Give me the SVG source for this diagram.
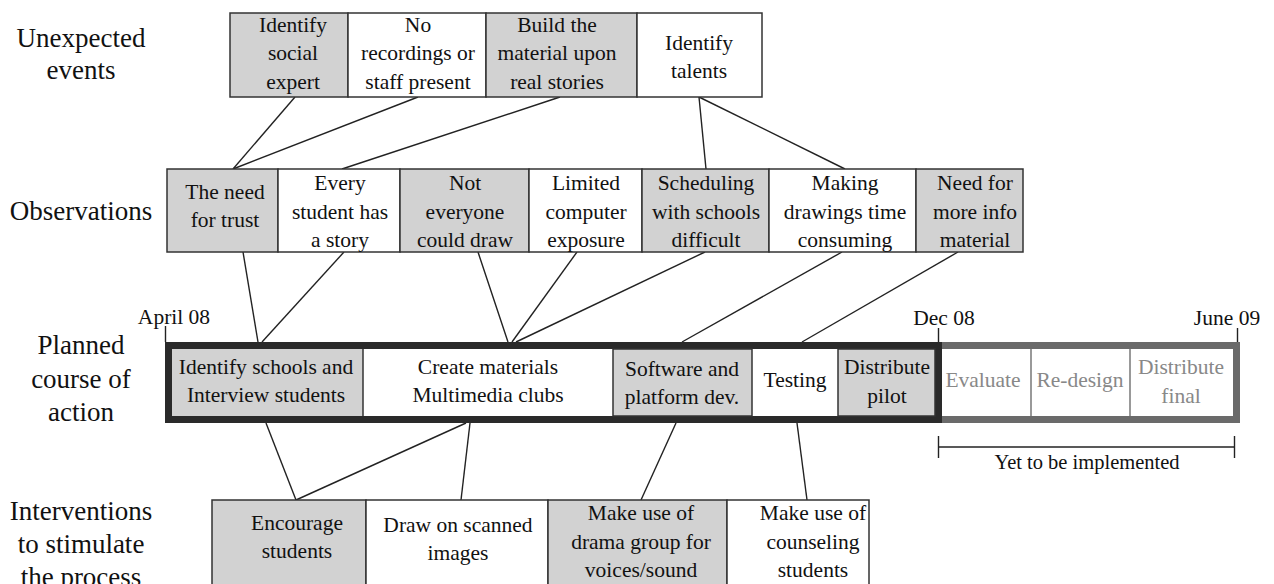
<svg xmlns="http://www.w3.org/2000/svg" width="1274" height="584" viewBox="0 0 1274 584">
<style>
text{font-family:"Liberation Serif","Times New Roman",serif;fill:#111;text-anchor:middle}
.lbl{font-size:27px}
.t{font-size:21.5px}
.g{fill:#d2d2d2;stroke:#333;stroke-width:1.5}
.w{fill:#fff;stroke:#333;stroke-width:1.5}
.fut{fill:#888}
.c line{stroke:#222;stroke-width:1.4}
.tick{stroke:#222;stroke-width:1.4}
</style>
<rect width="1274" height="584" fill="#fff"/>
<g id="row-labels">
<text class="lbl" x="81" y="47">Unexpected</text>
<text class="lbl" x="81" y="79">events</text>
<text class="lbl" x="81" y="220">Observations</text>
<text class="lbl" x="81" y="354">Planned</text>
<text class="lbl" x="81" y="388">course of</text>
<text class="lbl" x="81" y="421">action</text>
<text class="lbl" x="81" y="520">Interventions</text>
<text class="lbl" x="81" y="553">to stimulate</text>
<text class="lbl" x="81" y="586">the process</text>
</g>
<g id="connectors" class="c">
<line x1="295" y1="97" x2="233" y2="169"/>
<line x1="418" y1="97" x2="233" y2="169"/>
<line x1="560" y1="97" x2="342" y2="169"/>
<line x1="699" y1="97" x2="706" y2="169"/>
<line x1="699" y1="97" x2="845" y2="169"/>
<line x1="243" y1="252" x2="258" y2="342"/>
<line x1="344" y1="252" x2="262" y2="342"/>
<line x1="478" y1="252" x2="508" y2="342"/>
<line x1="577" y1="252" x2="512" y2="342"/>
<line x1="705" y1="252" x2="516" y2="342"/>
<line x1="842" y1="252" x2="682" y2="342"/>
<line x1="958" y1="252" x2="802" y2="342"/>
<line x1="266" y1="423" x2="296" y2="500"/>
<line x1="466" y1="423" x2="296" y2="500"/>
<line x1="470" y1="423" x2="461" y2="500"/>
<line x1="676" y1="423" x2="641" y2="500"/>
<line x1="797" y1="423" x2="807" y2="500"/>
</g>
<!-- Unexpected events -->
<g id="u1"><rect class="g" x="230" y="13" width="118" height="84"/><text class="t" x="293" y="32">Identify</text><text class="t" x="293" y="60">social</text><text class="t" x="293" y="89">expert</text></g>
<g id="u2"><rect class="w" x="348" y="13" width="138" height="84"/><text class="t" x="418" y="32">No</text><text class="t" x="418" y="60">recordings or</text><text class="t" x="418" y="89">staff present</text></g>
<g id="u3"><rect class="g" x="486" y="13" width="151" height="84"/><text class="t" x="557" y="32">Build the</text><text class="t" x="557" y="60">material upon</text><text class="t" x="557" y="89">real stories</text></g>
<g id="u4"><rect class="w" x="637" y="13" width="125" height="84"/><text class="t" x="699" y="50">Identify</text><text class="t" x="699" y="78">talents</text></g>
<!-- Observations -->
<g id="o1"><rect class="g" x="167" y="169" width="111" height="83"/><text class="t" x="225" y="199">The need</text><text class="t" x="225" y="227">for trust</text></g>
<g id="o2"><rect class="w" x="278" y="169" width="122" height="83"/><text class="t" x="340" y="190">Every</text><text class="t" x="340" y="219">student has</text><text class="t" x="340" y="247">a story</text></g>
<g id="o3"><rect class="g" x="400" y="169" width="129" height="83"/><text class="t" x="465" y="190">Not</text><text class="t" x="465" y="219">everyone</text><text class="t" x="465" y="247">could draw</text></g>
<g id="o4"><rect class="w" x="529" y="169" width="113" height="83"/><text class="t" x="586" y="190">Limited</text><text class="t" x="586" y="219">computer</text><text class="t" x="586" y="247">exposure</text></g>
<g id="o5"><rect class="g" x="642" y="169" width="127" height="83"/><text class="t" x="706" y="190">Scheduling</text><text class="t" x="706" y="219">with schools</text><text class="t" x="706" y="247">difficult</text></g>
<g id="o6"><rect class="w" x="769" y="169" width="147" height="83"/><text class="t" x="845" y="190">Making</text><text class="t" x="845" y="219">drawings time</text><text class="t" x="845" y="247">consuming</text></g>
<g id="o7"><rect class="g" x="916" y="169" width="107" height="83"/><text class="t" x="975" y="190">Need for</text><text class="t" x="975" y="219">more info</text><text class="t" x="975" y="247">material</text></g>
<!-- Planned course of action -->
<g id="timeline">
<rect x="938.5" y="345.5" width="298" height="74" fill="#fff" stroke="#6a6a6a" stroke-width="7"/>
<rect x="168.5" y="345.5" width="770" height="74" fill="#fff" stroke="#2a2a2a" stroke-width="7"/>
<line class="tick" x1="165.5" y1="326" x2="165.5" y2="342"/>
<line class="tick" x1="938.5" y1="328" x2="938.5" y2="342"/>
<line class="tick" x1="1237.5" y1="328" x2="1237.5" y2="342"/>
<text class="t" x="174" y="324">April 08</text>
<text class="t" x="944" y="325">Dec 08</text>
<text class="t" x="1227" y="325">June 09</text>
</g>
<g id="p1"><rect x="172" y="349" width="191" height="67" fill="#d2d2d2"/><text class="t" x="266" y="374">Identify schools and</text><text class="t" x="266" y="402">Interview students</text></g>
<g id="p2"><line x1="363" y1="349" x2="363" y2="416" stroke="#333" stroke-width="1.5"/><text class="t" x="488" y="374">Create materials</text><text class="t" x="488" y="402">Multimedia clubs</text></g>
<g id="p3"><rect x="613" y="349" width="139" height="67" fill="#d2d2d2" stroke="#333" stroke-width="1.5"/><text class="t" x="682" y="376">Software and</text><text class="t" x="682" y="404">platform dev.</text></g>
<g id="p4"><text class="t" x="795" y="387">Testing</text></g>
<g id="p5"><rect x="838" y="349" width="97" height="67" fill="#d2d2d2" stroke="#333" stroke-width="1.5"/><text class="t" x="887" y="374">Distribute</text><text class="t" x="887" y="403">pilot</text></g>
<g id="p6"><text class="t fut" x="983" y="387">Evaluate</text></g>
<g id="p7"><line x1="1031" y1="349" x2="1031" y2="416" stroke="#777" stroke-width="1.5"/><text class="t fut" x="1080" y="387">Re-design</text></g>
<g id="p8"><line x1="1130" y1="349" x2="1130" y2="416" stroke="#777" stroke-width="1.5"/><text class="t fut" x="1181" y="374">Distribute</text><text class="t fut" x="1181" y="403">final</text></g>
<g id="yet">
<line class="tick" x1="938" y1="447" x2="1235" y2="447"/>
<line class="tick" x1="938.5" y1="436" x2="938.5" y2="458"/>
<line class="tick" x1="1234.5" y1="436" x2="1234.5" y2="458"/>
<text x="1087" y="469" style="font-size:20.5px">Yet to be implemented</text>
</g>
<!-- Interventions -->
<g id="i1"><rect class="g" x="212" y="500" width="154" height="92"/><text class="t" x="297" y="530">Encourage</text><text class="t" x="297" y="558">students</text></g>
<g id="i2"><rect class="w" x="366" y="500" width="182" height="92"/><text class="t" x="458" y="532">Draw on scanned</text><text class="t" x="458" y="560">images</text></g>
<g id="i3"><rect class="g" x="548" y="500" width="179" height="92"/><text class="t" x="641" y="520">Make use of</text><text class="t" x="641" y="549">drama group for</text><text class="t" x="641" y="577">voices/sound</text></g>
<g id="i4"><rect class="w" x="727" y="500" width="142" height="92"/><text class="t" x="813" y="520">Make use of</text><text class="t" x="813" y="549">counseling</text><text class="t" x="813" y="577">students</text></g>
</svg>
